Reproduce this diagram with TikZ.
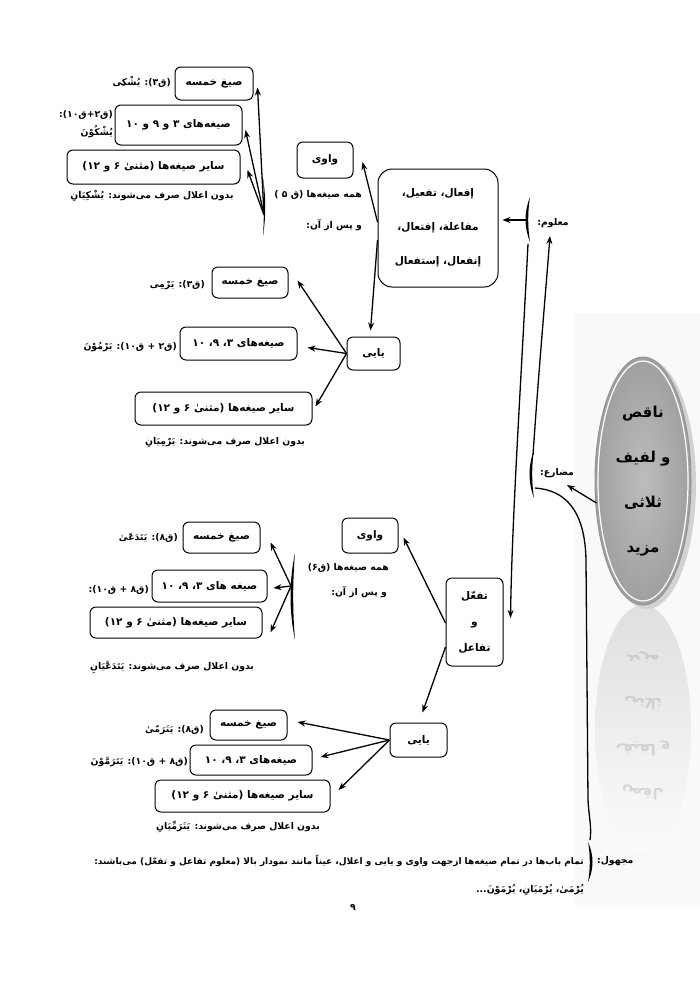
\documentclass[tikz,border=0pt]{standalone}
\usepackage{fontspec}
\usetikzlibrary{arrows.meta,shapes.geometric,calc}
\newfontfamily\fa[Script=Arabic]{DejaVu Sans}
\TeXXeTstate=1
\newcommand{\RTx}[1]{\beginR #1\endR}
\newcommand{\brkt}[4]{%
 \pgfmathsetmacro{\bkya}{#2+(#3-#2)/3}%
 \pgfmathsetmacro{\bkyb}{#2+2*(#3-#2)/3}%
 \pgfmathsetmacro{\bkxo}{#1+1.5*(#4)}%
 \pgfmathsetmacro{\bkxi}{#1+0.6*(#4)}%
 \fill (#1,#2) .. controls (\bkxo,\bkya) and (\bkxo,\bkyb) .. (#1,#3) .. controls (\bkxi,\bkyb) and (\bkxi,\bkya) .. (#1,#2) -- cycle;}
\tikzset{
 box/.style={draw, line width=1pt, rounded corners=6pt, fill=white, align=center, inner sep=1pt, font=\fa\bfseries\fontsize{10.5}{12}\selectfont},
 lbl/.style={inner sep=1pt, align=right, font=\fa\bfseries\fontsize{9.3}{16}\selectfont},
 arr/.style={line width=1.3pt, -{Stealth[length=8pt,width=6pt]}},
 ln/.style={line width=1.3pt},
 refl/.style={font=\fa\bfseries\fontsize{15}{17}\selectfont, text=gray, yscale=-1, transform shape},
}
\begin{document}
\begin{tikzpicture}[x=1pt,y=-1pt]
\useasboundingbox (0,0) rectangle (700,989);
\fill[white] (0,0) rectangle (700,989);
% faint panel and reflection
\fill[gray!5] (574,313) rectangle (700,905);
\shade[top color=gray!25, bottom color=gray!3] (643,729) ellipse [x radius=48, y radius=124];
\begin{scope}[opacity=0.25]
\node[refl] (r1) at (643,657) {\RTx{مزید}};
\node[refl] (r2) at (643,703) {\RTx{ثلاثی}};
\node[refl] (r3) at (643,748) {\RTx{و لفیف}};
\node[refl] (r4) at (643,792) {\RTx{ناقص}};
\end{scope}
% main ellipse
\fill[gray!35] (647,484) ellipse [x radius=49, y radius=125];
\node[ellipse, draw=gray!85, line width=1pt, inner color=gray!52, outer color=gray!75, minimum width=96pt, minimum height=248pt, align=center, font=\fa\bfseries\fontsize{15}{45}\selectfont] (ell) at (643,481) {\RTx{ناقص}\\\RTx{و لفیف}\\\RTx{ثلاثی}\\\RTx{مزید}};
\draw[white, line width=1.2pt] (643,481) ellipse [x radius=45, y radius=120];

% ===== top group =====
\node[box, minimum width=78pt, minimum height=33pt] (a1) at (214,83.5) {\RTx{صیغ خمسه}};
\node[box, minimum width=127pt, minimum height=40pt] (a2) at (178.5,125) {\RTx{صیغه‌های ۳ و ۹ و ۱۰}};
\node[box, minimum width=173pt, minimum height=34pt] (a3) at (153.5,167) {\RTx{سایر صیغه‌ها (مثنیٰ ۶ و ۱۲)}};
\node[lbl, anchor=east] (la1) at (172,82) {\RTx{(ق۳): یُشْکِی}};
\node[lbl, anchor=east, font=\fa\bfseries\fontsize{9.3}{18}\selectfont] (la2) at (114,124) {\RTx{(ق۲+ق۱۰):}\\\RTx{یُشْکُوْنَ}};
\node[lbl] (na3) at (152,196) {\RTx{بدون اعلال صرف می‌شوند: یُشْکِیَانِ}};
\brkt{263}{178}{236}{2}
\coordinate (b5) at (264,215);
\node[lbl, anchor=east] (h5) at (363,195) {\RTx{همه صیغه‌ها (ق ۵ )}};
\node[lbl, anchor=east] (h5b) at (363,225) {\RTx{و پس از آن:}};
\draw[arr] (b5) -- ($(a1.east)+(4,4)$);
\draw[arr] (b5) -- ($(a2.east)+(3,5)$);
\draw[arr] (b5) -- ($(a3.east)+(7,3)$);

\node[box, minimum width=56pt, minimum height=36pt] (w1) at (325,160) {\RTx{واوی}};
\node[box, rounded corners=14pt, minimum width=120pt, minimum height=118pt, font=\fa\bfseries\fontsize{10.5}{34}\selectfont] (main) at (438,228) {\RTx{إفعال، تفعیل،}\\\RTx{مفاعلة، إفتعال،}\\\RTx{إنفعال، إستفعال}};
\draw[arr] ($(main.west)+(0,-6)$) -- ($(w1.east)+(9,2)$);

\node[box, minimum width=53pt, minimum height=33pt] (y1) at (373.5,353.5) {\RTx{یایی}};
\draw[arr] ($(main.west)+(0,12)$) -- ($(y1.north)+(-3,-6)$);

% معلوم / مضارع
\brkt{530}{197}{242}{-4}
\coordinate (bm) at (528,220);
\coordinate (bmlow) at (528,244);
\node[lbl] (mal) at (553,223) {\RTx{معلوم:}};
\draw[arr] (bm) -- ($(main.east)+(4,-8)$);

\brkt{534}{450}{498}{-4}
\coordinate (bz) at (533,455);
\coordinate (bzlow) at (535,488);
\node[lbl] (mud) at (557,473) {\RTx{مضارع:}};
\draw[arr] (bz) .. controls (538,380) and (545,300) .. (550,236);
\draw[arr] ($(ell.west)+(2,22)$) -- (567,485);

% ===== middle yayi group =====
\node[box, minimum width=76pt, minimum height=31pt] (m1) at (250,282.5) {\RTx{صیغ خمسه}};
\node[box, minimum width=117pt, minimum height=33pt] (m2) at (238.5,343.5) {\RTx{صیغه‌های ۳، ۹، ۱۰}};
\node[box, minimum width=177pt, minimum height=33pt] (m3) at (223.5,408.5) {\RTx{سایر صیغه‌ها (مثنیٰ ۶ و ۱۲)}};
\node[lbl, anchor=east] (lm1) at (206,285) {\RTx{(ق۳): یَرْمِی}};
\node[lbl, anchor=east] (lm2) at (178,347) {\RTx{(ق۲ + ق۱۰): یَرْمُوْنَ}};
\node[lbl] (nm3) at (225,443) {\RTx{بدون اعلال صرف می‌شوند: یَرْمِیَانِ}};
\draw[arr] (y1.west) -- ($(m1.east)+(9,-2)$);
\draw[arr] (y1.west) -- ($(m2.east)+(10,4)$);
\draw[arr] (y1.west) -- ($(m3.east)+(3,-2)$);

% ===== lower group =====
\node[box, minimum width=57pt, minimum height=88pt, font=\fa\bfseries\fontsize{10.5}{26}\selectfont] (tf) at (474.5,622) {\RTx{تفعّل}\\\RTx{و}\\\RTx{تفاعل}};
\draw[arr] (bmlow) .. controls (520,400) and (512,520) .. ($(tf.east)+(7,-4)$);
\node[box, minimum width=56pt, minimum height=35pt] (w2) at (370,535.5) {\RTx{واوی}};
\draw[arr] ($(tf.west)+(0,1)$) -- ($(w2.east)+(5,2)$);
\node[lbl, anchor=east] (h6) at (390,568) {\RTx{همه صیغه‌ها (ق۶)}};
\node[lbl, anchor=east] (h6b) at (388,592) {\RTx{و پس از آن:}};
\brkt{295}{553}{640}{-4}
\coordinate (b6) at (291,586);
\node[box, minimum width=77pt, minimum height=31pt] (l1) at (221.5,537.5) {\RTx{صیغ خمسه}};
\node[box, minimum width=115pt, minimum height=32pt] (l2) at (209.5,586) {\RTx{صیغه های ۳، ۹، ۱۰}};
\node[box, minimum width=172pt, minimum height=31pt] (l3) at (176,622.5) {\RTx{سایر صیغه‌ها (مثنیٰ ۶ و ۱۲)}};
\node[lbl, anchor=east] (ll1) at (179,538) {\RTx{(ق۸): یَتَدَعّیٰ}};
\node[lbl, anchor=east] (ll2) at (150,590) {\RTx{(ق۸ + ق۱۰):}};
\node[lbl] (nl3) at (172,667) {\RTx{بدون اعلال صرف می‌شوند: یَتَدَعَّیَانِ}};
\draw[arr] (b6) -- ($(l1.east)+(10,5)$);
\draw[arr] (b6) -- ($(l2.east)+(6,2)$);
\draw[arr] (b6) -- ($(l3.east)+(8,10)$);

\node[box, minimum width=57pt, minimum height=34pt] (y2) at (418.5,740) {\RTx{یایی}};
\draw[arr] ($(tf.west)+(0,25)$) -- ($(y2.north)+(4,-10)$);
\node[box, minimum width=77pt, minimum height=30pt] (p1) at (248.5,725) {\RTx{صیغ خمسه}};
\node[box, minimum width=122pt, minimum height=30pt] (p2) at (251,760) {\RTx{صیغه‌های ۳، ۹، ۱۰}};
\node[box, minimum width=175pt, minimum height=32pt] (p3) at (242.5,796) {\RTx{سایر صیغه‌ها (مثنیٰ ۶ و ۱۲)}};
\node[lbl, anchor=east] (lp1) at (205,730) {\RTx{(ق۸): یَتَرَمّیٰ}};
\node[lbl, anchor=east] (lp2) at (189,762) {\RTx{(ق۸ + ق۱۰): یَتَرَمَّوْنَ}};
\node[lbl] (np3) at (238,827) {\RTx{بدون اعلال صرف می‌شوند: یَتَرَمِّیَانِ}};
\draw[arr] (y2.west) -- ($(p1.east)+(10,-3)$);
\draw[arr] (y2.west) -- ($(p2.east)+(8,-3)$);
\draw[arr] (y2.west) -- ($(p3.east)+(8,-6)$);

% ===== مجهول =====
\brkt{588}{842}{882}{4}
\coordinate (bj) at (590,840);
\draw[ln] (bzlow) .. controls (565,490) and (585,510) .. (586,560) -- (588,800) .. controls (589,818) and (592,828) .. (bj);
\node[lbl, anchor=west] (mj) at (596,861) {\RTx{مجهول:}};
\node[lbl, anchor=east, font=\fa\bfseries\fontsize{9}{12}\selectfont] (sj) at (585,861) {\RTx{تمام باب‌ها در تمام صیغه‌ها ازجهت واوی و یایی و اعلال، عیناً مانند نمودار بالا (معلوم تفاعل و تفعّل) می‌باشند:}};
\node[lbl, anchor=east] (sj2) at (585,890) {\RTx{یُرْمَیٰ، یُرْمَیَانِ، یُرْمَوْنَ...}};
\node[lbl] (pg) at (353,908) {\RTx{۹}};
\end{tikzpicture}
\end{document}
